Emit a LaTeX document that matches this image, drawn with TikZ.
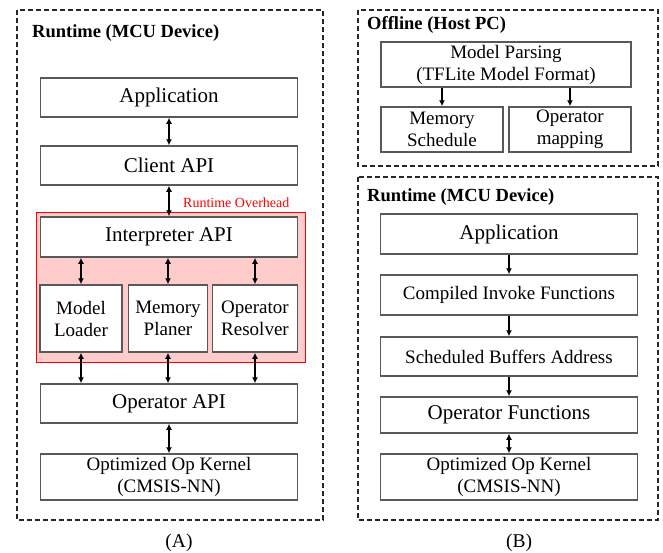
\documentclass[tikz,border=0pt]{standalone}
\usepackage{fontspec}
\setmainfont{LiberationSerif-Regular.ttf}[BoldFont=LiberationSerif-Bold.ttf]
\usetikzlibrary{arrows.meta}
\tikzset{blk/.style = {draw=black!65, line width=1.5pt, fill=white, inner sep=0,
                       align=center, font=\rmfamily\fontsize{19}{22}\selectfont}}
\tikzset{bigblk/.style = {blk, font=\rmfamily\fontsize{21}{23}\selectfont}}
\tikzset{frame/.style = {draw=black!85, line width=1.3pt, dash pattern=on 5pt off 3pt}}
\tikzset{ttl/.style = {anchor=west, inner sep=0, font=\rmfamily\fontsize{18.5}{20}\selectfont\bfseries}}
\tikzset{subcap/.style = {inner sep=0, font=\rmfamily\fontsize{19.5}{21}\selectfont}}
\tikzset{arr/.style = {-{Latex[length=6pt,width=6pt]}, line width=1.8pt}}
\tikzset{darr/.style = {{Latex[length=6pt,width=6pt]}-{Latex[length=6pt,width=6pt]}, line width=1.8pt}}

\begin{document}
\begin{tikzpicture}[x=1pt, y=-1pt]
  \useasboundingbox (0,0) rectangle (663,552);

  % (A) interpreter based runtime
  \draw[frame] (17,10) rectangle (323,520);
  \node[ttl] (ttlA) at (32,33) {Runtime (MCU Device)};
  \draw[red, fill=red!20, line width=1pt] (36,212) rectangle (305,362);
  \node[anchor=base west, inner sep=0, red, font=\rmfamily\fontsize{14}{16}\selectfont]
    (ovh) at (183,207) {Runtime Overhead};

  \node[bigblk, minimum width=257, minimum height=39] (app) at (169,97.5) {Application};
  \node[bigblk, minimum width=257, minimum height=39] (client) at (169,165.5) {Client API};
  \node[bigblk, minimum width=257, minimum height=40] (interp) at (169,237) {Interpreter API};
  \node[blk, minimum width=82, minimum height=67] (loader) at (81,318.5) {Model\\Loader};
  \node[blk, minimum width=79, minimum height=67] (planer) at (168,318.5) {Memory\\Planer};
  \node[blk, minimum width=85, minimum height=67] (resolver) at (255,318.5) {Operator\\Resolver};
  \node[bigblk, minimum width=257, minimum height=39] (opapi) at (169,403.5) {Operator API};
  \node[blk, minimum width=257, minimum height=46] (kernA) at (169,477) {Optimized Op Kernel\\(CMSIS-NN)};

  \draw[darr] (app) -- (client);
  \draw[darr] (client) -- (interp);
  \foreach \n in {loader, planer, resolver} {
    \draw[darr] (interp.south -| \n) -- (\n.north);
    \draw[darr] (\n.south) -- (opapi.north -| \n);
  }
  \draw[darr] (opapi) -- (kernA);
  \node[subcap] (capA) at (179,543) {(A)};

  % (B) offline compiled runtime
  \draw[frame] (358,10) rectangle (658,166);
  \node[ttl] (ttlOff) at (367,25) {Offline (Host PC)};
  \node[blk, minimum width=250, minimum height=45] (parse) at (506,64.5) {Model Parsing\\(TFLite Model Format)};
  \node[blk, minimum width=122, minimum height=45] (memsch) at (442,129.5) {Memory\\Schedule};
  \node[blk, minimum width=122, minimum height=45] (opmap) at (570,129.5) {Operator\\mapping};
  \draw[arr] (parse.south -| memsch) -- (memsch);
  \draw[arr] (parse.south -| opmap) -- (opmap);

  \draw[frame] (358,177) rectangle (658,520);
  \node[ttl] (ttlB) at (367,197) {Runtime (MCU Device)};
  \node[bigblk, minimum width=257, minimum height=40] (appB) at (509,234) {Application};
  \node[blk, minimum width=257, minimum height=40] (invoke) at (509,295) {Compiled Invoke Functions};
  \node[blk, minimum width=257, minimum height=39] (sched) at (509,356.5) {Scheduled Buffers Address};
  \node[bigblk, minimum width=257, minimum height=36] (opfun) at (509,415) {Operator Functions};
  \node[blk, minimum width=257, minimum height=46] (kernB) at (509,477) {Optimized Op Kernel\\(CMSIS-NN)};
  \draw[arr] (appB) -- (invoke);
  \draw[arr] (invoke) -- (sched);
  \draw[arr] (sched) -- (opfun);
  \draw[darr] (opfun) -- (kernB);
  \node[subcap] (capB) at (519,543) {(B)};
\end{tikzpicture}
\end{document}
